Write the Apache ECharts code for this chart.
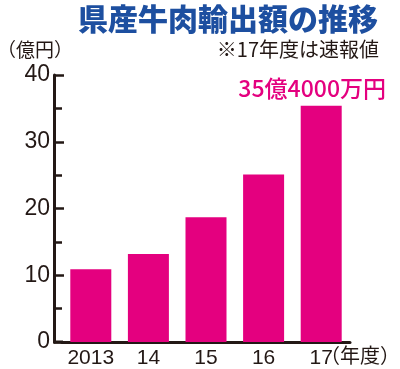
<!DOCTYPE html>
<html><head><meta charset="utf-8">
<script src="https://cdn.jsdelivr.net/npm/echarts@6/dist/echarts.min.js"></script>
<style>html,body{margin:0;padding:0;background:#fff}#c{width:400px;height:369px}</style>
</head><body><div id="c"></div>
<script>
var categories = ['2013', '14', '15', '16', '17'];
var values = [10.9, 13.2, 18.7, 25.1, 35.4];
var yTicks = [0, 10, 20, 30, 40];
var lastLabel = '35億4000万円';
var titleText = '県産牛肉輸出額の推移';
var noteText = '※17年度は速報値';
var yUnit = '（億円）';
var xUnit = '（年度）';

var MAG = '#e4007f', INK = '#231815', BLUE = '#1d4fa0';
var CJK = '"Noto Sans CJK JP", sans-serif';
var LAT = '"Liberation Sans", Arial, sans-serif';

var chart = echarts.init(document.getElementById('c'), null, {renderer: 'canvas'});
var data = values.map(function (v, i) {
  if (i === values.length - 1) {
    return {value: v, label: {show: true, position: 'top', distance: 6, offset: [-9, 0],
      formatter: lastLabel, color: MAG, fontFamily: CJK, fontSize: 23, fontWeight: 500}};
  }
  return v;
});
chart.setOption({
  animation: false,
  grid: {left: 62, right: 50, top: 75, bottom: 27, containLabel: false},
  graphic: [
    {type: 'text', right: 22, top: 4, style: {text: titleText, fill: BLUE, font: '900 30px ' + CJK}},
    {type: 'text', right: 21, top: 39, style: {text: noteText, fill: INK, font: '400 20px ' + CJK}},
    {type: 'text', left: -3, top: 40, style: {text: yUnit, fill: INK, font: '400 19px ' + CJK}},
    {type: 'text', left: 320, top: 345, style: {text: xUnit, fill: INK, font: '400 20px ' + CJK}},
    {type: 'line', shape: {x1: 53, y1: 342, x2: 63, y2: 342}, style: {stroke: INK, lineWidth: 3}}
  ],
  xAxis: {
    type: 'category', data: categories,
    axisLine: {lineStyle: {color: INK, width: 3}},
    axisTick: {show: false},
    axisLabel: {interval: 0, color: INK, fontFamily: LAT, fontSize: 21, margin: 6}
  },
  yAxis: {
    type: 'value', min: yTicks[0], max: yTicks[yTicks.length - 1], interval: 10,
    offset: 8,
    axisLine: {show: true, lineStyle: {color: INK, width: 3}},
    axisTick: {show: true, inside: true, length: 10, lineStyle: {color: INK, width: 2.5}},
    minorTick: {show: true, splitNumber: 2, length: 8, lineStyle: {color: INK, width: 2.5}},
    splitLine: {show: false},
    axisLabel: {color: INK, fontFamily: LAT, fontSize: 23, margin: 4}
  },
  series: [{
    type: 'bar', data: data, barWidth: 41,
    itemStyle: {color: MAG}
  }]
});
</script></body></html>
